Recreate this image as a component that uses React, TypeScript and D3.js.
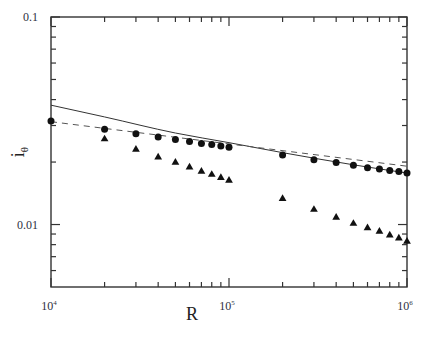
import * as d3 from "d3";

// Reynolds numbers sampled
const rCircles = [1e4, 2e4, 3e4, 4e4, 5e4, 6e4, 7e4, 8e4, 9e4, 1e5, 2e5, 3e5, 4e5, 5e5, 6e5, 7e5, 8e5, 9e5, 1e6];
const iCircles = [0.0315, 0.0288, 0.0274, 0.0264, 0.0257, 0.0251, 0.0246, 0.0243, 0.0239, 0.0236, 0.0216, 0.0205, 0.0199, 0.0193, 0.0188, 0.0185, 0.0182, 0.018, 0.0177];

const rTriangles = [2e4, 3e4, 4e4, 5e4, 6e4, 7e4, 8e4, 9e4, 1e5, 2e5, 3e5, 4e5, 5e5, 6e5, 7e5, 8e5, 9e5, 1e6];
const iTriangles = [0.0258, 0.023, 0.0211, 0.0199, 0.0189, 0.018, 0.0174, 0.0168, 0.0163, 0.0133, 0.0118, 0.0108, 0.0101, 0.00963, 0.00925, 0.00888, 0.00859, 0.00828];

// solid curve
const rSolid = [1e4, 2e4, 5e4, 1e5, 2e5, 5e5, 1e6];
const iSolid = [0.0376, 0.033, 0.0276, 0.0248, 0.0222, 0.0194, 0.0177];

// dashed fit
const rDashed = [1e4, 1e6];
const iDashed = [0.0313, 0.0191];

const yMajor = [0.1, 0.01];
const yMinor = [0.006, 0.007, 0.008, 0.009, 0.02, 0.03, 0.04, 0.05, 0.06, 0.07, 0.08, 0.09];
const yLabels = ["0.1", "0.01"];
const xMajor = [1e4, 1e5, 1e6];
const xMinor = [2e4, 3e4, 4e4, 5e4, 6e4, 7e4, 8e4, 9e4, 2e5, 3e5, 4e5, 5e5, 6e5, 7e5, 8e5, 9e5];
const xExponents = ["4", "5", "6"];

export default function App() {
  const width = 432;
  const height = 345;
  const left = 51, right = 407, top = 17, bottom = 287;

  const x = d3.scaleLog().domain([1e4, 1e6]).range([left, right]);
  const y = d3.scaleLog().domain([0.005, 0.1]).range([bottom, top]);

  const lineGen = d3
    .line<[number, number]>()
    .x((d) => x(d[0]))
    .y((d) => y(d[1]));

  const solidPath = lineGen.curve(d3.curveMonotoneX)(rSolid.map((r, i) => [r, iSolid[i]]));
  const dashedPath = lineGen.curve(d3.curveLinear)(rDashed.map((r, i) => [r, iDashed[i]]));

  const axisColor = "#333";
  const labelColor = "#2e3042";
  const tri = d3.symbol().type(d3.symbolTriangle).size(26)();

  return (
    <svg
      width={width}
      height={height}
      style={{ position: "absolute", left: 0, top: 0, background: "#fff" }}
      fontFamily="'Liberation Serif', 'Times New Roman', serif"
    >
      {/* curves */}
      <path d={solidPath ?? ""} fill="none" stroke="#333" strokeWidth={1} />
      <path d={dashedPath ?? ""} fill="none" stroke="#555" strokeWidth={1} strokeDasharray="6,5" />

      {/* frame */}
      <rect x={left} y={top} width={right - left} height={bottom - top} fill="none" stroke={axisColor} strokeWidth={1.4} />

      {/* y ticks, both sides */}
      {yMajor.map((v) => (
        <g key={"ym" + v}>
          <line x1={left} x2={left + 9} y1={y(v)} y2={y(v)} stroke={axisColor} strokeWidth={1.2} />
          <line x1={right} x2={right - 9} y1={y(v)} y2={y(v)} stroke={axisColor} strokeWidth={1.2} />
        </g>
      ))}
      {yMinor.map((v) => (
        <g key={"yn" + v}>
          <line x1={left} x2={left + 5} y1={y(v)} y2={y(v)} stroke={axisColor} strokeWidth={1.2} />
          <line x1={right} x2={right - 5} y1={y(v)} y2={y(v)} stroke={axisColor} strokeWidth={1.2} />
        </g>
      ))}

      {/* x ticks, both sides */}
      {xMajor.map((v) => (
        <g key={"xm" + v}>
          <line x1={x(v)} x2={x(v)} y1={bottom} y2={bottom - 9} stroke={axisColor} strokeWidth={1.2} />
          <line x1={x(v)} x2={x(v)} y1={top} y2={top + 9} stroke={axisColor} strokeWidth={1.2} />
        </g>
      ))}
      {xMinor.map((v) => (
        <g key={"xn" + v}>
          <line x1={x(v)} x2={x(v)} y1={bottom} y2={bottom - 5} stroke={axisColor} strokeWidth={1.2} />
          <line x1={x(v)} x2={x(v)} y1={top} y2={top + 5} stroke={axisColor} strokeWidth={1.2} />
        </g>
      ))}

      {/* tick labels */}
      {yMajor.map((v, i) => (
        <text key={"yl" + v} x={left - 13} y={y(v)} dy="0.35em" textAnchor="end" fontSize={12} fill={labelColor}>
          {yLabels[i]}
        </text>
      ))}
      {xMajor.map((v, i) => (
        <text key={"xl" + v} x={x(v) - 2} y={310} textAnchor="middle" fontSize={12} fill={labelColor}>
          10
          <tspan fontSize={7} dy={-5}>
            {xExponents[i]}
          </tspan>
        </text>
      ))}

      {/* axis titles */}
      <text x={192} y={320} textAnchor="middle" fontSize={18} fill="#222">
        R
      </text>
      <text transform="translate(24,152) rotate(-90)" textAnchor="middle" fontSize={18} fill="#222">
        i
        <tspan fontSize={11} dy={4}>
          θ
        </tspan>
      </text>

      {/* markers */}
      {rCircles.map((r, i) => (
        <circle key={"c" + r} cx={x(r)} cy={y(iCircles[i])} r={3.5} fill="#111" />
      ))}
      {rTriangles.map((r, i) => (
        <path key={"t" + r} d={tri ?? ""} transform={`translate(${x(r)},${y(iTriangles[i])})`} fill="#111" />
      ))}
    </svg>
  );
}
